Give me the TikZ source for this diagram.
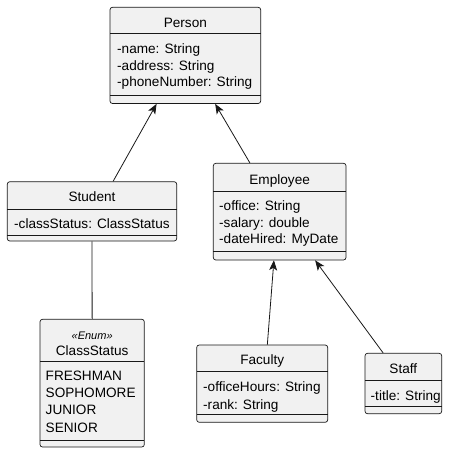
\documentclass[tikz,border=0pt]{standalone}
\usepackage{fontspec}
\setmainfont{Liberation Sans}
\usetikzlibrary{calc,arrows.meta}
\definecolor{boxfill}{HTML}{F1F1F1}
\definecolor{boxline}{HTML}{181818}
\begin{document}
\begin{tikzpicture}[x=1pt,y=-1pt,
  umlbox/.style={draw=boxline, fill=boxfill, line width=0.7pt, rounded corners=2.5pt, inner sep=0pt},
  sep/.style={draw=boxline, line width=0.7pt},
  title/.style={anchor=base, inner sep=0pt, font=\fontsize{13.6}{16}\selectfont},
  attr/.style={anchor=base west, inner sep=0pt, font=\fontsize{13.6}{16}\selectfont},
  stereo/.style={anchor=base, inner sep=0pt, font=\itshape\fontsize{11}{14}\selectfont},
  inherit/.style={draw=boxline, line width=0.8pt, -{Stealth[length=10pt,width=8pt,inset=2.5pt]}},
  assoc/.style={draw=boxline, line width=0.8pt}]
\useasboundingbox (0,0) rectangle (452,454);

% Person
\node[umlbox, minimum width=150.7pt, minimum height=96.2pt] (person) at (185.35,55.4) {};
\draw[sep] (110,33.3) -- (260.7,33.3);
\draw[sep] (110,95.7) -- (260.7,95.7);
\node[title] (personT) at (185.35,27.5) {Person};
\node[attr] (personA1) at (117,54) {-name: String};
\node[attr] (personA2) at (117,70.5) {-address: String};
\node[attr] (personA3) at (117,87) {-phoneNumber: String};

% Student
\node[umlbox, minimum width=169.4pt, minimum height=59.3pt] (student) at (92,211.35) {};
\draw[sep] (7.3,209.3) -- (176.7,209.3);
\draw[sep] (7.3,235) -- (176.7,235);
\node[title] (studentT) at (92,201.5) {Student};
\node[attr] (studentA1) at (14,228) {-classStatus: ClassStatus};

% Employee
\node[umlbox, minimum width=132.7pt, minimum height=96.7pt] (employee) at (279.65,211.65) {};
\draw[sep] (213.3,191) -- (346,191);
\draw[sep] (213.3,251.7) -- (346,251.7);
\node[title] (employeeT) at (279.65,184.5) {Employee};
\node[attr] (employeeA1) at (219,210.5) {-office: String};
\node[attr] (employeeA2) at (219,227) {-salary: double};
\node[attr] (employeeA3) at (219,243.5) {-dateHired: MyDate};

% ClassStatus
\node[umlbox, minimum width=104.3pt, minimum height=127.7pt] (classstatus) at (92.15,383.15) {};
\draw[sep] (40,361.7) -- (144.3,361.7);
\draw[sep] (40,440) -- (144.3,440);
\node[stereo] (csS) at (92.15,339.5) {«Enum»};
\node[title] (csT) at (92.15,355.5) {ClassStatus};
\node[attr] (csA1) at (45.5,380.3) {FRESHMAN};
\node[attr] (csA2) at (45.5,397.2) {SOPHOMORE};
\node[attr] (csA3) at (45.5,414.6) {JUNIOR};
\node[attr] (csA4) at (45.5,432.3) {SENIOR};

% Faculty
\node[umlbox, minimum width=131pt, minimum height=77.3pt] (faculty) at (262.2,383.65) {};
\draw[sep] (196.7,371) -- (327.7,371);
\draw[sep] (196.7,414.3) -- (327.7,414.3);
\node[title] (facultyT) at (262.2,364.8) {Faculty};
\node[attr] (facultyA1) at (203,391.2) {-officeHours: String};
\node[attr] (facultyA2) at (203,409.5) {-rank: String};

% Staff
\node[umlbox, minimum width=76.7pt, minimum height=60.4pt] (staff) at (403.35,383.5) {};
\draw[sep] (365,380) -- (441.7,380);
\draw[sep] (365,406) -- (441.7,406);
\node[title] (staffT) at (403.35,373.8) {Staff};
\node[attr] (staffA1) at (370.5,400.5) {-title: String};

% connectors
\draw[inherit] ($(student.north west)!0.624!(student.north east)$) -- ($(person.south west)!0.31!(person.south east)$);
\draw[inherit] ($(employee.north west)!0.277!(employee.north east)$) -- ($(person.south west)!0.697!(person.south east)$);
\draw[inherit] ($(faculty.north west)!0.539!(faculty.north east)$) -- ($(employee.south west)!0.457!(employee.south east)$);
\draw[inherit] ($(staff.north west)!0.239!(staff.north east)$) -- ($(employee.south west)!0.766!(employee.south east)$);
\draw[assoc] (student.south) -- (classstatus.north);
\end{tikzpicture}
\end{document}
